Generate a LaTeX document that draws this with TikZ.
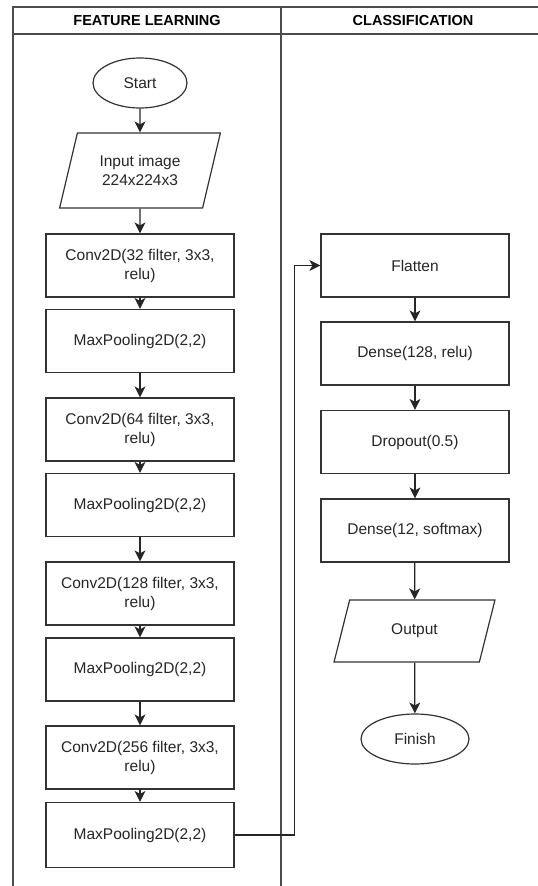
\documentclass[tikz,border=0pt]{standalone}
\usepackage{fontspec}
\setmainfont{Liberation Sans}
\usetikzlibrary{shapes.geometric,arrows.meta}

\begin{document}
\begin{tikzpicture}[x=1pt, y=-1pt,
  every node/.style={font=\fontsize{15.5}{19}\selectfont, text=black!85},
  lane/.style={draw=black!70, line width=1.6pt},
  head/.style={font=\fontsize{14.5}{17}\selectfont\bfseries, text=black},
  layer/.style={draw=black!80, line width=1.2pt, fill=white, align=center,
    minimum width=188pt, minimum height=63pt, inner sep=2pt},
  term/.style={ellipse, draw=black!80, line width=1.2pt, fill=white,
    minimum height=50pt, inner sep=1pt},
  io/.style={trapezium, trapezium left angle=70, trapezium right angle=110,
    trapezium stretches=true, draw=black!80, line width=1.2pt, fill=white,
    align=center, minimum width=161pt, minimum height=75pt, inner sep=1pt},
  arr/.style={draw=black!85, line width=1.2pt,
    -{Stealth[length=11pt, width=11pt, inset=3pt]}}]

\useasboundingbox (0,0) rectangle (538,886);

% ---------- swimlanes ----------
\draw[lane] (13,886) -- (13,7) -- (538,7);
\draw[lane] (13,34) -- (538,34);
\draw[lane] (281,7) -- (281,886);
\node[head] (hfeat) at (147,21) {FEATURE LEARNING};
\node[head] (hclass) at (413,21) {CLASSIFICATION};

% ---------- feature learning ----------
\node[term, minimum width=94pt] (start) at (140,83) {Start};
\node[io] (input) at (140,170.5) {Input image\\224x224x3};
\node[layer] (conv1) at (140,265.5) {Conv2D(32 filter, 3x3,\\relu)};
\node[layer] (pool1) at (140,341) {MaxPooling2D(2,2)};
\node[layer] (conv2) at (140,429.5) {Conv2D(64 filter, 3x3,\\relu)};
\node[layer] (pool2) at (140,505) {MaxPooling2D(2,2)};
\node[layer] (conv3) at (140,593.5) {Conv2D(128 filter, 3x3,\\relu)};
\node[layer] (pool3) at (140,669.5) {MaxPooling2D(2,2)};
\node[layer] (conv4) at (140,757.5) {Conv2D(256 filter, 3x3,\\relu)};
\node[layer, minimum height=65pt] (pool4) at (140,835) {MaxPooling2D(2,2)};

\draw[arr] (start) -- (input);
\draw[arr] (input) -- (conv1);
\draw[arr] (conv1) -- (pool1);
\draw[arr] (pool1) -- (conv2);
\draw[arr] (conv2) -- (pool2);
\draw[arr] (pool2) -- (conv3);
\draw[arr] (conv3) -- (pool3);
\draw[arr] (pool3) -- (conv4);
\draw[arr] (conv4) -- (pool4);

% ---------- classification ----------
\node[layer] (flat) at (415,265.5) {Flatten};
\node[layer] (dense1) at (415,353.5) {Dense(128, relu)};
\node[layer] (drop) at (415,442) {Dropout(0.5)};
\node[layer] (dense2) at (415,530.5) {Dense(12, softmax)};
\node[io, minimum height=62pt] (output) at (414.5,631) {Output};
\node[term, minimum width=108pt] (finish) at (415,739) {Finish};

\draw[arr] (pool4.east) -- ++(60,0) |- (flat.west);
\draw[arr] (flat) -- (dense1);
\draw[arr] (dense1) -- (drop);
\draw[arr] (drop) -- (dense2);
\draw[arr] (dense2) -- (output);
\draw[arr] (output) -- (finish);

\end{tikzpicture}
\end{document}
